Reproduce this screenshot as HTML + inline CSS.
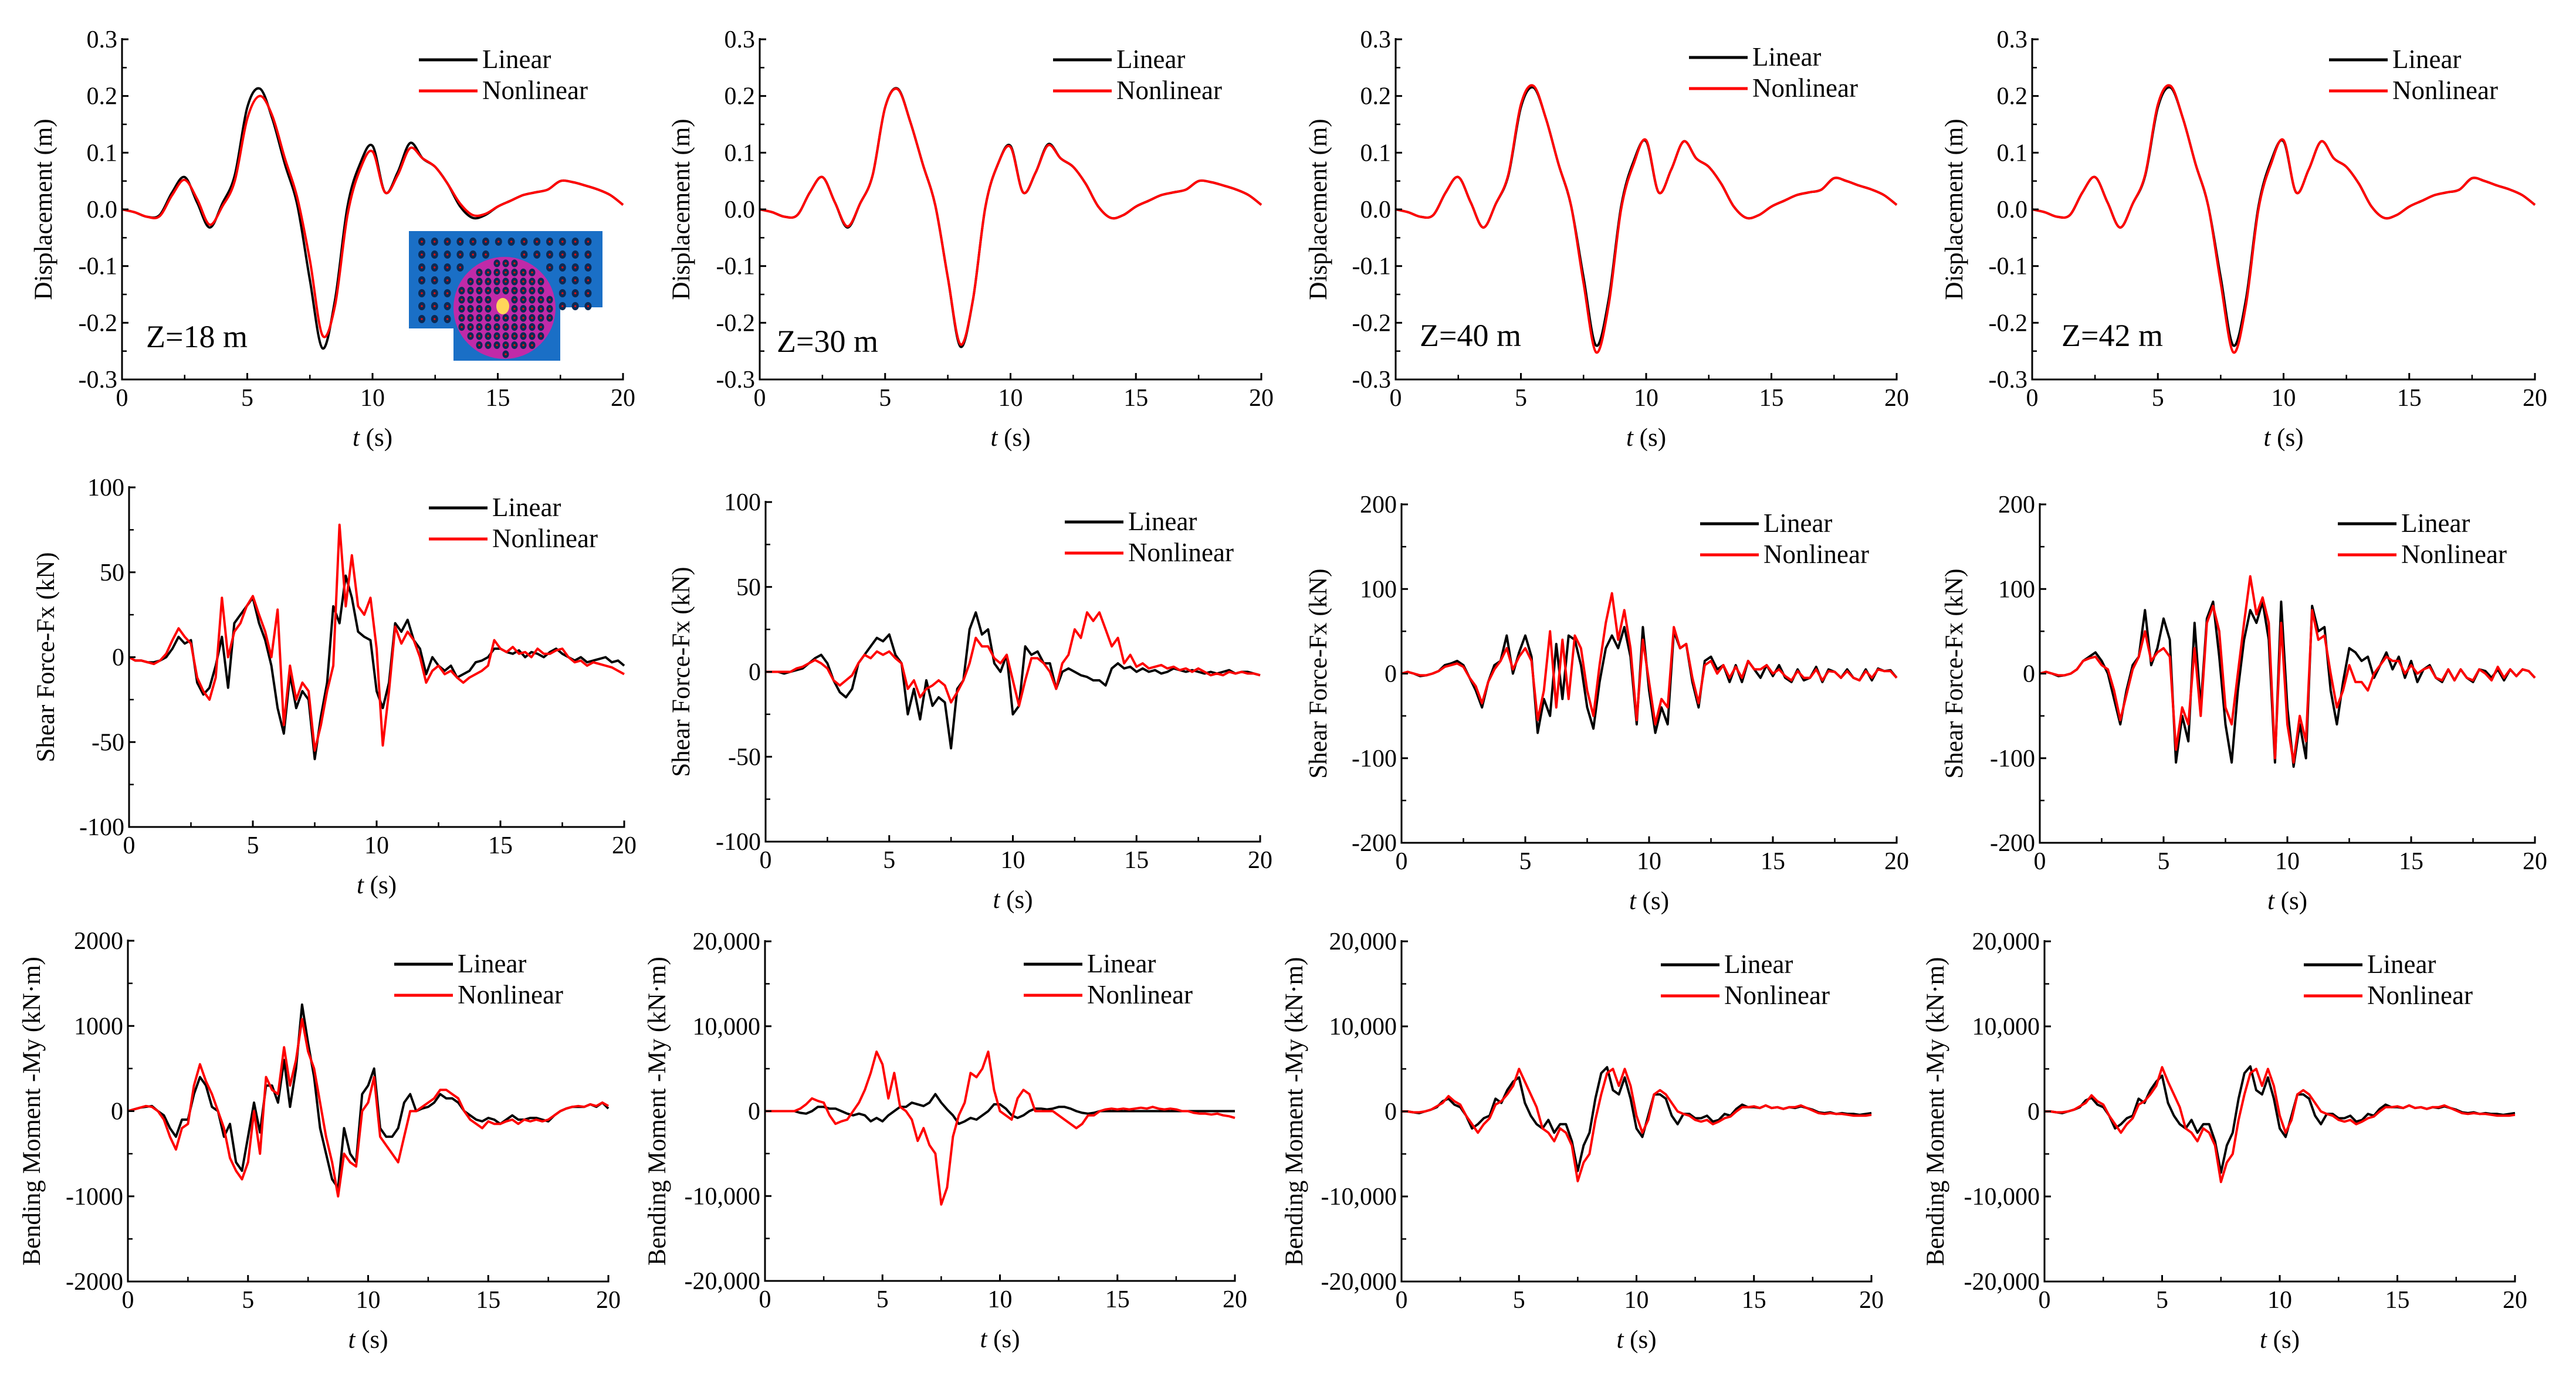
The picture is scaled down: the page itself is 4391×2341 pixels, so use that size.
<!DOCTYPE html>
<html><head><meta charset="utf-8"><title>Linear vs Nonlinear responses</title>
<style>
html,body{margin:0;padding:0;background:#fff;}
svg{display:block;font-family:"Liberation Serif","DejaVu Serif",serif;}
svg text{font-family:"Liberation Serif","DejaVu Serif",serif;}
</style></head>
<body>
<svg id="fig" width="4391" height="2341" viewBox="0 0 4391 2341" xmlns="http://www.w3.org/2000/svg" font-family="Liberation Serif, DejaVu Serif, serif"></svg>
<script>
// ---------- data (time step = 20 s / (n-1)) ----------
const dispTicks = [-0.3,-0.2,-0.1,0,0.1,0.2,0.3];
const dispTickLabels = ["-0.3","-0.2","-0.1","0.0","0.1","0.2","0.3"];
const shear100Ticks = [-100,-50,0,50,100];
const shear100Labels = ["-100","-50","0","50","100"];
const shear200Ticks = [-200,-100,0,100,200];
const shear200Labels = ["-200","-100","0","100","200"];
const mom2kTicks = [-2000,-1000,0,1000,2000];
const mom2kLabels = ["-2000","-1000","0","1000","2000"];
const mom20kTicks = [-20000,-10000,0,10000,20000];
const mom20kLabels = ["-20,000","-10,000","0","10,000","20,000"];
const timeTicks = [0,5,10,15,20];
const timeLabels = ["0","5","10","15","20"];

const dispZ18Lin = [0,-0.005,-0.013,-0.01,0.03,0.057,0.012,-0.032,0.01,0.06,0.18,0.213,0.16,0.08,0.007,-0.125,-0.245,-0.16,0.005,0.08,0.112,0.03,0.065,0.117,0.09,0.075,0.045,0.005,-0.015,-0.01,0.005,0.015,0.025,0.03,0.035,0.05,0.048,0.042,0.035,0.025,0.008];
const dispZ18Non = [0,-0.005,-0.013,-0.012,0.025,0.052,0.018,-0.027,0.005,0.05,0.16,0.2,0.165,0.09,0.02,-0.09,-0.222,-0.17,-0.01,0.07,0.102,0.03,0.06,0.108,0.09,0.075,0.045,0.01,-0.01,-0.008,0.005,0.015,0.025,0.03,0.035,0.05,0.048,0.042,0.035,0.025,0.008];
const dispZ30Lin = [0,-0.005,-0.013,-0.01,0.03,0.057,0.012,-0.032,0.01,0.06,0.18,0.213,0.155,0.08,0.007,-0.12,-0.242,-0.16,0.005,0.08,0.112,0.03,0.065,0.115,0.09,0.075,0.045,0.005,-0.015,-0.01,0.005,0.015,0.025,0.03,0.035,0.05,0.048,0.042,0.035,0.025,0.008];
const dispZ30Non = [0,-0.005,-0.013,-0.01,0.03,0.057,0.012,-0.03,0.01,0.06,0.18,0.212,0.155,0.08,0.007,-0.12,-0.238,-0.16,0.005,0.08,0.11,0.03,0.065,0.113,0.09,0.075,0.045,0.005,-0.015,-0.01,0.005,0.015,0.025,0.03,0.035,0.05,0.048,0.042,0.035,0.025,0.008];
const dispZ40Lin = [0,-0.005,-0.013,-0.01,0.03,0.057,0.012,-0.032,0.01,0.06,0.18,0.215,0.16,0.08,0.007,-0.12,-0.24,-0.16,0.005,0.085,0.12,0.03,0.07,0.12,0.09,0.075,0.045,0.005,-0.015,-0.01,0.005,0.015,0.025,0.03,0.035,0.055,0.05,0.042,0.035,0.025,0.008];
const dispZ40Non = [0,-0.005,-0.013,-0.01,0.03,0.057,0.012,-0.032,0.01,0.062,0.185,0.218,0.16,0.08,0.007,-0.13,-0.252,-0.17,0.0,0.08,0.122,0.03,0.07,0.12,0.09,0.075,0.045,0.005,-0.015,-0.01,0.005,0.015,0.025,0.03,0.035,0.055,0.05,0.042,0.035,0.025,0.008];
const dispZ42Lin = [0,-0.005,-0.013,-0.01,0.03,0.057,0.012,-0.032,0.01,0.06,0.18,0.215,0.16,0.08,0.007,-0.12,-0.24,-0.16,0.005,0.085,0.12,0.03,0.07,0.12,0.09,0.075,0.045,0.005,-0.015,-0.01,0.005,0.015,0.025,0.03,0.035,0.055,0.05,0.042,0.035,0.025,0.008];
const dispZ42Non = [0,-0.005,-0.013,-0.01,0.03,0.057,0.012,-0.032,0.01,0.062,0.185,0.218,0.16,0.08,0.007,-0.13,-0.252,-0.17,0.0,0.08,0.122,0.03,0.07,0.12,0.09,0.075,0.045,0.005,-0.015,-0.01,0.005,0.015,0.025,0.03,0.035,0.055,0.05,0.042,0.035,0.025,0.008];

const shearZ18Lin = [0,-2,-2,-3, -3,-2,0,5, 12,8,10,-15, -22,-18,-5,12, -18,20,25,30, 35,20,10,-5, -30,-45,-10,-30, -20,-25,-60,-35, -15,30,20,48, 35,15,12,10, -20,-30,-15,20, 15,22,10,5, -10,0,-5,-8, -5,-12,-10,-8, -3,-2,0,5, 5,3,2,4, 0,3,2,0, 3,5,2,0, -2,0,-3,-2, -1,0,-3,-2,-5];
const shearZ18Non = [0,-2,-2,-3, -4,-2,2,10, 17,12,8,-12, -20,-25,-12,35, 0,15,20,30, 36,25,15,0, 28,-40,-5,-25, -15,-20,-55,-40, -20,-5,78,30, 60,30,25,35, 5,-52,-20,18, 8,15,10,0, -15,-8,-5,-10, -8,-12,-15,-12, -10,-8,-5,10, 5,3,6,2, 3,0,5,2, 2,4,5,0, -3,-2,-5,-3, -4,-5,-6,-8,-10];
const shearZ30Lin = [0,0,0,-1, 0,1,2,5, 8,10,5,-5, -12,-15,-10,5, 10,15,20,18, 22,10,5,-25, -10,-28,-5,-20, -15,-18,-45,-10, -5,25,35,22, 25,5,0,10, -25,-20,15,10, 12,5,5,-10, 0,2,0,-2, -3,-5,-5,-8, 2,5,2,3, 0,2,0,1, -1,0,2,1, 0,1,0,-1, 0,-1,0,1, -1,0,0,-1,-2];
const shearZ30Non = [0,0,0,0, 0,2,3,5, 7,5,2,-5, -8,-5,-2,5, 10,8,12,10, 12,8,5,-10, -5,-15,-10,-8, -5,-8,-18,-12, -5,5,20,15, 15,8,5,10, -5,-20,-5,8, 8,5,0,-10, 5,10,25,20, 35,30,35,25, 15,20,5,10, 3,5,2,3, 4,2,3,1, 2,0,2,0, -2,-1,-2,0, -1,0,-1,-1,-2];
const shearZ40Lin = [0,2,0,-3, -2,0,3,10, 12,15,10,-5, -20,-40,-10,10, 15,45,0,25, 45,20,-70,-30, -50,35,-30,45, 40,10,-40,-65, -10,30,45,30, 55,20,-60,55, -20,-70,-40,-60, 50,30,35,-10, -40,15,20,5, 10,-10,10,-10, 15,5,-5,10, -3,10,-5,-10, 5,-8,-5,8, -10,5,2,-5, 5,-5,-8,5, -8,6,3,4,-5];
const shearZ40Non = [0,2,0,-2, -2,0,3,8, 10,12,8,-5, -15,-35,-10,5, 15,30,5,20, 30,15,-55,-20, 50,-40,40,-30, 45,30,-20,-50, 10,60,95,40, 75,30,-55,40, -10,-60,-30,-40, 55,30,35,-5, -35,10,15,0, 10,-5,8,-5, 15,5,5,10, 0,5,-3,-8, 3,-5,-5,5, -8,3,2,-5, 3,-5,-8,3, -5,5,3,3,-5];
const shearZ42Lin = [0,2,0,-3, -2,0,5,15, 20,25,15,0, -30,-60,-20,10, 20,75,10,30, 65,40,-105,-50, -80,60,-40,65, 85,20,-60,-105, -20,40,75,60, 85,40,-105,85, -40,-110,-60,-100, 80,50,55,-20, -60,-10,30,25, 15,20,-5,10, 25,5,20,-5, 15,-10,5,10, -5,-10,5,-8, 5,-5,-10,5, 3,-5,5,-8, 5,-3,5,3,-5];
const shearZ42Non = [0,2,0,-2, -2,0,5,15, 18,20,10,5, -20,-55,-25,5, 20,50,15,25, 30,20,-90,-40, -60,30,-50,60, 80,50,-40,-60, 0,60,115,70, 90,60,-100,60, -60,-105,-50,-80, 75,40,45,0, -40,-20,10,-10, -10,-20,0,10, 20,15,15,0, 10,0,5,8, -5,-8,5,-8, 5,-5,-8,5, 0,-8,8,-5, 5,-3,5,3,-5];

const momZ18Lin = [0,20,40,50, 60,0,-50,-200, -300,-100,-100,200, 400,300,50,0, -300,-150,-600,-700, -300,100,-250,300, 300,100,600,50, 500,1250,800,400, -200,-500,-800,-900, -200,-500,-600,200, 300,500,-200,-300, -300,-200,100,200, 0,30,50,100, 200,150,150,100, 0,-50,-100,-120, -80,-100,-150,-100, -50,-100,-100,-80, -80,-100,-120,-50, 0,30,50,50, 50,80,50,100,30];
const momZ18Non = [0,20,40,60, 50,0,-100,-300, -450,-200,-150,300, 550,350,200,0, -200,-550,-700,-800, -600,0,-500,400, 250,200,750,300, 600,1080,700,500, 100,-300,-600,-1000, -500,-600,-650,0, 100,400,-300,-400, -500,-600,-300,0, 0,50,100,150, 250,250,200,150, 0,-100,-150,-200, -120,-150,-150,-120, -100,-150,-100,-120, -100,-120,-100,-50, 0,30,50,60, 50,80,60,100,60];
const momZ30Lin = [0,0,0,0, 0,0,-200,-300, 0,500,500,300, 300,0,-300,-500, -300,-500,-1200,-800, -1200,-500,0,500, 500,1000,800,600, 1000,2000,1000,200, -500,-1500,-1200,-800, -1000,-500,0,800, 800,300,-500,-800, -500,0,300,300, 200,300,500,500, 300,0,-200,-300, -200,0,0,0, 0,0,0,0, 0,0,0,0, 0,0,0,0, 0,0,0,0, 0,0,0,0,0];
const momZ30Non = [0,0,0,0, 0,0,300,800, 1500,1200,1000,-500, -1500,-1200,-1000,0, 1000,2500,4500,7000, 5500,1500,4500,500, 0,-1000,-3500,-2000, -4000,-5000,-11000,-9000, -3000,-500,1000,4500, 4000,5000,7000,2500, 0,-500,-1000,1500, 2500,2000,0,0, 0,0,-500,-1000, -1500,-2000,-1500,-500, -500,0,200,300, 200,300,200,300, 400,300,500,300, 200,300,200,0, 0,-200,-300,-300, -400,-300,-500,-600,-800];
const momZ40Lin = [0,0,-100,-200, 0,200,500,1200, 1500,800,500,-500, -2000,-1500,-800,-500, 1500,1000,2500,3500, 4000,1000,-500,-1500, -2000,-1000,-2500,-1500, -1500,-3500,-7000,-4000, -2500,1500,4500,5200, 2500,2000,4000,1500, -2000,-3000,-500,2000, 2000,1500,-500,-1500, -300,-300,-800,-800, -500,-1200,-1000,-300, -500,300,800,500, 500,400,700,400, 500,300,500,400, 600,400,200,-100, -200,-100,-300,-200, -300,-300,-400,-300,-200];
const momZ40Non = [0,0,-100,-100, 0,200,600,1000, 1800,1200,800,-500, -1500,-2500,-1500,-800, 800,1200,2000,3000, 5000,3500,2000,500, -2000,-2500,-3500,-2000, -2500,-4000,-8200,-6000, -5000,-1000,2000,4500, 5000,3000,5000,3000, -500,-2500,-1000,2000, 2500,2000,1000,0, -300,-500,-1000,-1200, -1000,-1500,-1200,-800, -600,0,500,500, 600,400,700,400, 500,300,500,500, 700,400,100,-200, -300,-200,-300,-300, -400,-500,-500,-500,-400];
const momZ42Lin = [0,0,-100,-200, 0,200,500,1300, 1600,800,500,-500, -2000,-1500,-800,-500, 1500,1000,2500,3500, 4200,1000,-500,-1500, -2000,-1000,-2500,-1500, -1500,-3500,-7200,-4000, -2500,1500,4500,5300, 2500,2000,4000,1500, -2000,-3000,-500,2000, 2000,1500,-500,-1500, -300,-300,-800,-800, -500,-1200,-1000,-300, -500,300,800,500, 500,400,700,400, 500,300,500,400, 600,400,200,-100, -200,-100,-300,-200, -300,-300,-400,-300,-200];
const momZ42Non = [0,0,-100,-100, 0,200,600,1000, 1900,1200,800,-500, -1500,-2500,-1500,-800, 800,1200,2000,3000, 5200,3500,2000,500, -2000,-2500,-3500,-2000, -2500,-4000,-8300,-6000, -5000,-1000,2000,4500, 5000,3000,5000,3000, -500,-2500,-1000,2000, 2500,2000,1000,0, -300,-500,-1000,-1200, -1000,-1500,-1200,-800, -600,0,500,500, 600,400,700,400, 500,300,500,500, 700,400,100,-200, -300,-200,-300,-300, -400,-500,-500,-500,-400];

// ---------- drawing ----------
const NS = "http://www.w3.org/2000/svg";
const FONT = "Liberation Serif, DejaVu Serif, serif";
const svg = document.getElementById('fig');
function mk(tag, attrs, parent){
  const e = document.createElementNS(NS, tag);
  for (const k in attrs) e.setAttribute(k, attrs[k]);
  if (tag === 'text') e.setAttribute('font-family', FONT);
  (parent||svg).appendChild(e);
  return e;
}
function smoothPath(pts){
  let d = "M" + pts[0][0].toFixed(1) + "," + pts[0][1].toFixed(1);
  for (let i=0;i<pts.length-1;i++){
    const p0=pts[Math.max(0,i-1)], p1=pts[i], p2=pts[i+1], p3=pts[Math.min(pts.length-1,i+2)];
    const c1=[p1[0]+(p2[0]-p0[0])/6, p1[1]+(p2[1]-p0[1])/6];
    const c2=[p2[0]-(p3[0]-p1[0])/6, p2[1]-(p3[1]-p1[1])/6];
    d += " C"+c1[0].toFixed(1)+","+c1[1].toFixed(1)+" "+c2[0].toFixed(1)+","+c2[1].toFixed(1)+" "+p2[0].toFixed(1)+","+p2[1].toFixed(1);
  }
  return d;
}
function linePath(pts){
  return "M" + pts.map(p=>p[0].toFixed(1)+","+p[1].toFixed(1)).join(" L");
}

function panel(p){
  const g = mk('g', {});
  
  
  const ymin = p.yticks[0], ymax = p.yticks[p.yticks.length-1];
  const sx = t => p.x0 + t/20*(p.x1-p.x0);
  const sy = v => p.y1 - (v-ymin)/(ymax-ymin)*(p.y1-p.y0);
  const series = [[p.lin,'#000','linear-series'],[p.non,'#ff0000','nonlinear-series']];
  for (const s of series){
    const arr = s[0];
    const pts = arr.map((v,i)=>[sx(i*20/(arr.length-1)), sy(v)]);
    const path = mk('path', {d: p.smooth ? smoothPath(pts) : linePath(pts), fill:'none', stroke:s[1], 'stroke-width':4, 'stroke-linejoin':'round'}, g);
    
    
  }
  const ax = mk('path', {d:`M${p.x0},${p.y0-2} L${p.x0},${p.y1} L${p.x1},${p.y1} L${p.x1},${p.y1-10}`, fill:'none', stroke:'#000', 'stroke-width':3}, g);
  
  
  for (let i=0;i<p.yticks.length;i++){
    const y = sy(p.yticks[i]);
    mk('line', {x1:p.x0, x2:p.x0+11, y1:y, y2:y, stroke:'#000','stroke-width':3}, g);
    if (i<p.yticks.length-1){
      const ym = sy((p.yticks[i]+p.yticks[i+1])/2);
      mk('line', {x1:p.x0, x2:p.x0+8, y1:ym, y2:ym, stroke:'#000','stroke-width':2.5}, g);
    }
    const tl = mk('text', {x:p.x0-8, y:y+14, 'font-size':42, 'text-anchor':'end', fill:'#000'}, g);
    tl.textContent = p.ylabels[i];
    
    
  }
  for (let i=0;i<timeTicks.length;i++){
    const x = sx(timeTicks[i]);
    mk('line', {x1:x, x2:x, y1:p.y1, y2:p.y1-11, stroke:'#000','stroke-width':3}, g);
    if (i<timeTicks.length-1){
      const xm = sx((timeTicks[i]+timeTicks[i+1])/2);
      mk('line', {x1:xm, x2:xm, y1:p.y1, y2:p.y1-8, stroke:'#000','stroke-width':2.5}, g);
    }
    const tl = mk('text', {x:x, y:p.y1+45, 'font-size':42, 'text-anchor':'middle', fill:'#000'}, g);
    tl.textContent = timeLabels[i];
    
    
  }
  const xt = mk('text', {x:(p.x0+p.x1)/2, y:p.y1+113, 'font-size':43, 'text-anchor':'middle', fill:'#000'}, g);
  xt.innerHTML = '<tspan font-style="italic">t</tspan> (s)';
  
  
  const yc = (p.y0+p.y1)/2;
  const yt = mk('text', {x:p.ytx, y:yc, 'font-size':43, 'text-anchor':'middle', fill:'#000', transform:`rotate(-90 ${p.ytx} ${yc})`, 'dominant-baseline':'middle'}, g);
  yt.textContent = p.ytitle;
  
  
  const lg = mk('g', {}, g);
  
  
  const ent = [['Linear','#000',p.ly],['Nonlinear','#ff0000',p.ly+53]];
  for (const e of ent){
    mk('line', {x1:p.lx, x2:p.lx+100, y1:e[2], y2:e[2], stroke:e[1], 'stroke-width':5}, lg);
    const t = mk('text', {x:p.lx+108, y:e[2]+14, 'font-size':45, fill:'#000'}, lg);
    t.textContent = e[0];
    
    
  }
  if (p.zlabel){
    const z = mk('text', {x:p.zx, y:p.zy, 'font-size':54, fill:'#000'}, g);
    z.textContent = p.zlabel;
    
    
  }
}

const panels = [
 {name:'disp-z18', x0:208,x1:1062,y0:67,y1:647, yticks:dispTicks, ylabels:dispTickLabels, lin:dispZ18Lin, non:dispZ18Non, smooth:true, ytitle:'Displacement (m)', ytx:78, lx:714, ly:102, zlabel:'Z=18 m', zx:249, zy:592},
 {name:'disp-z30', x0:1295,x1:2150,y0:67,y1:647, yticks:dispTicks, ylabels:dispTickLabels, lin:dispZ30Lin, non:dispZ30Non, smooth:true, ytitle:'Displacement (m)', ytx:1165, lx:1795, ly:102, zlabel:'Z=30 m', zx:1324, zy:600},
 {name:'disp-z40', x0:2379,x1:3233,y0:67,y1:647, yticks:dispTicks, ylabels:dispTickLabels, lin:dispZ40Lin, non:dispZ40Non, smooth:true, ytitle:'Displacement (m)', ytx:2251, lx:2879, ly:98, zlabel:'Z=40 m', zx:2420, zy:590},
 {name:'disp-z42', x0:3464,x1:4321,y0:67,y1:647, yticks:dispTicks, ylabels:dispTickLabels, lin:dispZ42Lin, non:dispZ42Non, smooth:true, ytitle:'Displacement (m)', ytx:3335, lx:3970, ly:102, zlabel:'Z=42 m', zx:3514, zy:590},
 {name:'shear-z18', x0:220,x1:1064,y0:831,y1:1410, yticks:shear100Ticks, ylabels:shear100Labels, lin:shearZ18Lin, non:shearZ18Non, smooth:false, ytitle:'Shear Force-Fx (kN)', ytx:82, lx:731, ly:866},
 {name:'shear-z30', x0:1305,x1:2148,y0:856,y1:1435, yticks:shear100Ticks, ylabels:shear100Labels, lin:shearZ30Lin, non:shearZ30Non, smooth:false, ytitle:'Shear Force-Fx (kN)', ytx:1165, lx:1815, ly:890},
 {name:'shear-z40', x0:2389,x1:3233,y0:860,y1:1437, yticks:shear200Ticks, ylabels:shear200Labels, lin:shearZ40Lin, non:shearZ40Non, smooth:false, ytitle:'Shear Force-Fx (kN)', ytx:2251, lx:2898, ly:893},
 {name:'shear-z42', x0:3477,x1:4321,y0:860,y1:1437, yticks:shear200Ticks, ylabels:shear200Labels, lin:shearZ42Lin, non:shearZ42Non, smooth:false, ytitle:'Shear Force-Fx (kN)', ytx:3335, lx:3985, ly:893},
 {name:'moment-z18', x0:218,x1:1037,y0:1604,y1:2185, yticks:mom2kTicks, ylabels:mom2kLabels, lin:momZ18Lin, non:momZ18Non, smooth:false, ytitle:'Bending Moment -My (kN·m)', ytx:58, lx:672, ly:1644},
 {name:'moment-z30', x0:1304,x1:2105,y0:1605,y1:2184, yticks:mom20kTicks, ylabels:mom20kLabels, lin:momZ30Lin, non:momZ30Non, smooth:false, ytitle:'Bending Moment -My (kN·m)', ytx:1124, lx:1745, ly:1644},
 {name:'moment-z40', x0:2389,x1:3190,y0:1605,y1:2185, yticks:mom20kTicks, ylabels:mom20kLabels, lin:momZ40Lin, non:momZ40Non, smooth:false, ytitle:'Bending Moment -My (kN·m)', ytx:2210, lx:2831, ly:1645},
 {name:'moment-z42', x0:3485,x1:4287,y0:1605,y1:2185, yticks:mom20kTicks, ylabels:mom20kLabels, lin:momZ42Lin, non:momZ42Non, smooth:false, ytitle:'Bending Moment -My (kN·m)', ytx:3303, lx:3927, ly:1645}
];
panels.forEach(panel);

// ---------- inset (pile group plan) ----------
const inset = mk('g', {});


mk('polygon', {points:'697,394 1027,394 1027,524 955,524 955,615 773,615 773,560 697,560', fill:'#1a6fc6'}, inset);
mk('circle', {cx:860, cy:525, r:87, fill:'#c02aa8'}, inset);
function inPoly(x,y){
  if (x>=697&&x<=1027&&y>=394&&y<=524) return true;
  if (x>=697&&x<=955&&y>=394&&y<=560) return true;
  if (x>=773&&x<=955&&y>=394&&y<=615) return true;
  return false;
}
for (let r=0;r<7;r++){
  for (let c=0;c<14;c++){
    const x=719+c*21.8, y=412+r*22;
    const d=Math.hypot(x-860,y-525);
    if (d<95 || !inPoly(x,y)) continue;
    mk('ellipse',{cx:x,cy:y,rx:6,ry:7,fill:'#0b2a55'},inset);
    mk('circle',{cx:x,cy:y,r:1.8,fill:'#e01010'},inset);
  }
}
for (let r=0;r<11;r++){
  for (let c=0;c<11;c++){
    const x=787+c*15, y=449+r*15.5;
    const d=Math.hypot(x-860,y-525);
    if (d>80 || Math.hypot(x-857,y-522)<16) continue;
    mk('ellipse',{cx:x,cy:y,rx:5.5,ry:6.5,fill:'#0b2a55'},inset);
    mk('circle',{cx:x,cy:y,r:1.8,fill:'#e01010'},inset);
  }
}
mk('ellipse', {cx:857, cy:522, rx:11, ry:14, fill:'#ffd65a'}, inset);
</script>
</body></html>
